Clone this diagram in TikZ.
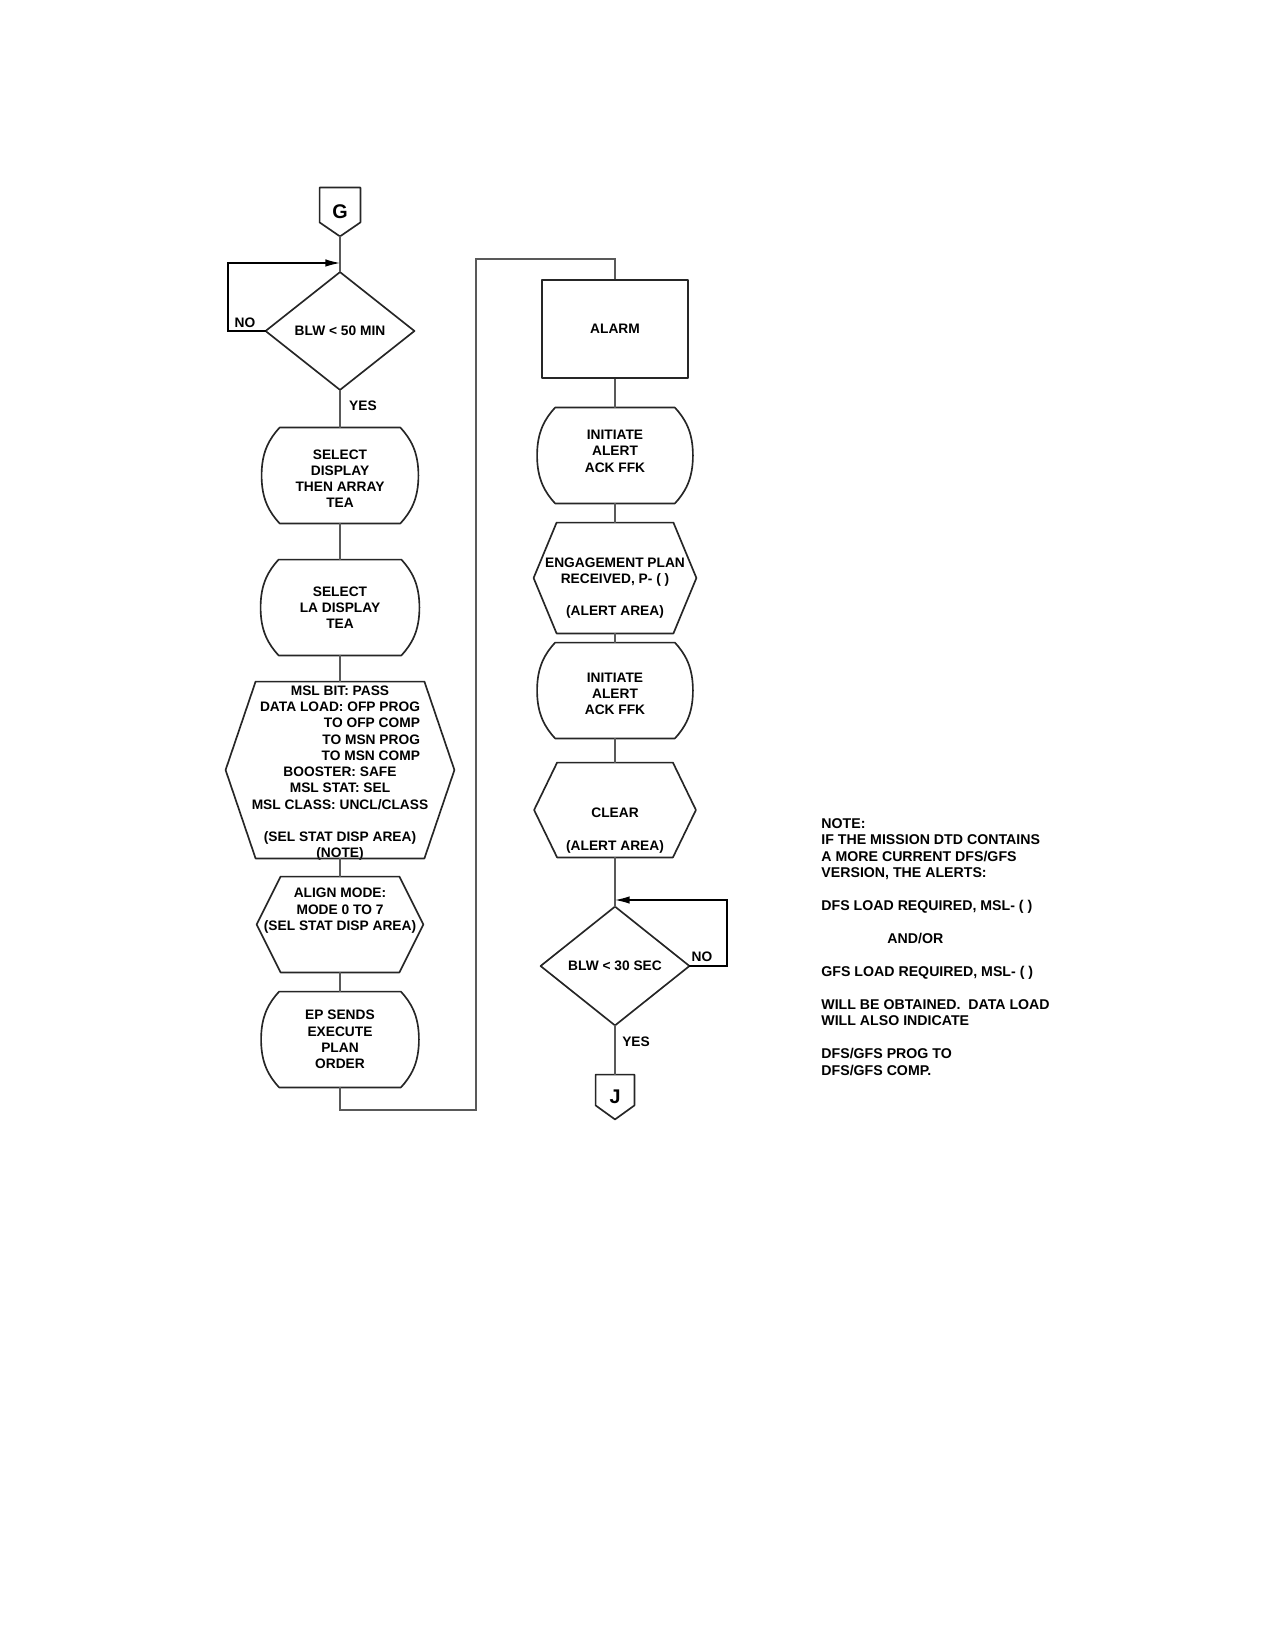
\documentclass[tikz,border=0pt]{standalone}
\usepackage{fontspec}
\setmainfont{Liberation Sans}
\usetikzlibrary{calc,arrows.meta}
\newcommand\flowfont{\fontsize{6.6pt}{7.8pt}\selectfont\bfseries}
\newcommand\notefont{\fontsize{6.8pt}{7.9pt}\selectfont\bfseries}
\newcommand\conffont{\fontsize{9.5pt}{10pt}\selectfont\bfseries}
\newlength\dlw
% curved-sided process box drawn on a rectangle node
\newcommand\capsule[1]{\draw[outline]
 ($(#1.north west)+(18,0)$) -- ($(#1.north east)+(-18,0)$)
 .. controls ($(#1.north east)+(-8,11)$) and ($(#1.east)+(0,-24)$) .. (#1.east)
 .. controls ($(#1.east)+(0,24)$) and ($(#1.south east)+(-8,-11)$) .. ($(#1.south east)+(-18,0)$)
 -- ($(#1.south west)+(18,0)$)
 .. controls ($(#1.south west)+(8,-11)$) and ($(#1.west)+(0,24)$) .. (#1.west)
 .. controls ($(#1.west)+(0,-24)$) and ($(#1.north west)+(8,11)$) .. ($(#1.north west)+(18,0)$) -- cycle;}
% hexagon with pointed sides
\newcommand\hexa[2]{\draw[outline]
 ($(#1.north west)+(#2,0)$) -- ($(#1.north east)+(-#2,0)$) -- (#1.east)
 -- ($(#1.south east)+(-#2,0)$) -- ($(#1.south west)+(#2,0)$) -- (#1.west) -- cycle;}
% off-page connector
\newcommand\penta[2]{\draw[outline]
 (#1.north west) -- (#1.north east) -- ($(#1.south east)+(0,-#2)$) -- (#1.south)
 -- ($(#1.south west)+(0,-#2)$) -- cycle;}
% decision diamond
\newcommand\diam[1]{\draw[outline] (#1.north) -- (#1.east) -- (#1.south) -- (#1.west) -- cycle;}
\tikzset{
 outline/.style={line width=0.8pt, draw=black!85, line join=round},
 con/.style={line width=0.5pt, draw=black!65},
 loopline/.style={line width=0.6pt, draw=black, -{Latex[length=7pt,width=3.6pt]}},
 flowtext/.style={font=\flowfont, inner sep=0pt, align=center},
 sized/.style 2 args={flowtext, minimum width={#1*0.48pt}, minimum height={#2*0.48pt}},
 lab/.style={font=\flowfont, inner sep=0pt},
 conn/.style 2 args={font=\conffont, inner sep=0pt, minimum width={#1*0.48pt}, minimum height={#2*0.48pt}},
}
\begin{document}
\begin{tikzpicture}[x=0.48pt,y=-0.48pt]
\fill[white] (0,0) rectangle (1275,1650);
\useasboundingbox (0,0) rectangle (1275,1650);

% ---------- left column ----------
\node[conn={40}{48}] (G) at (340,212) {G};
\penta{G}{14}
\node[sized={148}{117}] (D1) at (340,331) {BLW < 50 MIN};
\diam{D1}
\node[sized={156}{95}, label={[flowtext, yshift=-1.5pt]center:{SELECT\\DISPLAY\\THEN ARRAY\\TEA}}] (S1) at (340,475.5) {};
\capsule{S1}
\node[sized={158}{95}] (S2) at (340,607.5) {SELECT\\LA DISPLAY\\TEA};
\capsule{S2}
\node[sized={228}{176}, label={[flowtext, yshift=-1.5pt, font={\flowfont\settowidth{\dlw}{DATA LOAD: OFP PROG}\global\dlw=\dlw}]center:{MSL BIT: PASS\\DATA LOAD: OFP PROG\\\makebox[\dlw][r]{TO OFP COMP}\\\makebox[\dlw][r]{TO MSN PROG}\\\makebox[\dlw][r]{TO MSN COMP}\\BOOSTER: SAFE\\MSL STAT: SEL\\MSL CLASS: UNCL/CLASS\\[7.8pt](SEL STAT DISP AREA)\\(NOTE)}}] (MSL) at (340,770) {};
\hexa{MSL}{30}
\node[sized={166}{95}, label={[flowtext, yshift=6.6pt]center:{ALIGN MODE:\\MODE 0 TO 7\\(SEL STAT DISP AREA)}}] (AL) at (340,924.5) {};
\hexa{AL}{24}
\node[sized={157}{95}] (EP) at (340,1039.5) {EP SENDS\\EXECUTE\\PLAN\\ORDER};
\capsule{EP}

% ---------- right column ----------
\node[sized={146}{98}, outline] (ALARM) at (615,329) {ALARM};
\node[sized={155}{95}, label={[flowtext, yshift=2pt]center:{INITIATE\\ALERT\\ACK FFK}}] (I1) at (615,455.5) {};
\capsule{I1}
\node[sized={162}{110}, label={[flowtext, yshift=-4.8pt]center:{ENGAGEMENT PLAN\\RECEIVED, P- ( )\\[7.8pt](ALERT AREA)}}] (ENG) at (615,578) {};
\hexa{ENG}{23}
\node[sized={155}{95}, label={[flowtext, yshift=-1.5pt]center:{INITIATE\\ALERT\\ACK FFK}}] (I2) at (615,690.5) {};
\capsule{I2}
\node[sized={161}{94}, label={[flowtext, yshift=-10pt]center:{CLEAR\\[7.8pt](ALERT AREA)}}] (CLR) at (615,810) {};
\hexa{CLR}{23}
\node[sized={148}{118}] (D2) at (615,966) {BLW < 30 SEC};
\diam{D2}
\node[conn={38}{44}] (J) at (615,1097) {J};
\penta{J}{14}

% ---------- connectors ----------
\coordinate (la) at (228,263);
\coordinate (ja) at (340,263);
\coordinate (lb) at (727,900);
\coordinate (jb) at (615,900);
\coordinate (r1) at (476,1110);
\coordinate (r2) at (476,259);

\draw[con] (G.south) -- (D1.north);
\draw[loopline] (D1.west) -| (la) -- (ja);
\draw[con] (D1.south) -- (S1.north);
\draw[con] (S1.south) -- (S2.north);
\draw[con] (S2.south) -- (MSL.north);
\draw[con] (MSL.south) -- (AL.north);
\draw[con] (AL.south) -- (EP.north);
\draw[con] (EP.south) |- (r1) -- (r2) -| (ALARM.north);
\draw[con] (ALARM.south) -- (I1.north);
\draw[con] (I1.south) -- (ENG.north);
\draw[con] (ENG.south) -- (I2.north);
\draw[con] (I2.south) -- (CLR.north);
\draw[con] (CLR.south) -- (D2.north);
\draw[loopline] (D2.east) -| (lb) -- (jb);
\draw[con] (D2.south) -- (J.north);

% ---------- branch labels ----------
\node[lab] (no1) at (245,323) {NO};
\node[lab] (yes1) at (363,406) {YES};
\node[lab] (no2) at (702,957) {NO};
\node[lab] (yes2) at (636,1042) {YES};

% ---------- note ----------
\node[font=\notefont, inner sep=0pt, align=left, anchor=north west] (NOTE) at (821,818)
 {NOTE:\\IF THE MISSION DTD CONTAINS\\A MORE CURRENT DFS/GFS\\VERSION, THE ALERTS:\\[7.9pt]DFS LOAD REQUIRED, MSL- ( )\\[7.9pt]\hspace*{31.7pt}AND/OR\\[7.9pt]GFS LOAD REQUIRED, MSL- ( )\\[7.9pt]WILL BE OBTAINED.\ \ DATA LOAD\\WILL ALSO INDICATE\\[7.9pt]DFS/GFS PROG TO\\DFS/GFS COMP.};
\end{tikzpicture}
\end{document}
